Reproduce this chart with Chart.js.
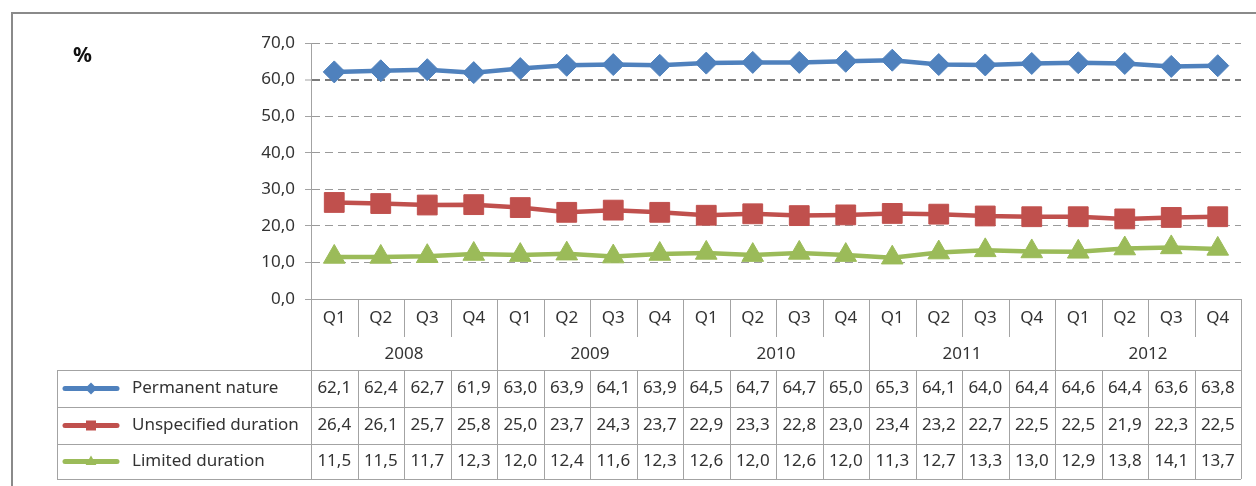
<!DOCTYPE html>
<html>
<head>
<meta charset="utf-8">
<script src="https://cdn.jsdelivr.net/npm/chart.js@4.4.1/dist/chart.umd.min.js"></script>
<style>
  html, body { margin: 0; padding: 0; background: #ffffff; }
  #wrap { position: relative; width: 1256px; height: 486px; }
  canvas { display: block; }
</style>
</head>
<body>
<div id="wrap"><canvas id="c" width="1256" height="486"></canvas></div>
<script>
// ---- Data ----
const years = ['2008', '2009', '2010', '2011', '2012'];
const quarters = ['Q1', 'Q2', 'Q3', 'Q4'];
const seriesNames = ['Permanent nature', 'Unspecified duration', 'Limited duration'];
const permanentNature = [62.1, 62.4, 62.7, 61.9, 63.0, 63.9, 64.1, 63.9, 64.5, 64.7, 64.7, 65.0, 65.3, 64.1, 64.0, 64.4, 64.6, 64.4, 63.6, 63.8];
const unspecifiedDuration = [26.4, 26.1, 25.7, 25.8, 25.0, 23.7, 24.3, 23.7, 22.9, 23.3, 22.8, 23.0, 23.4, 23.2, 22.7, 22.5, 22.5, 21.9, 22.3, 22.5];
const limitedDuration = [11.5, 11.5, 11.7, 12.3, 12.0, 12.4, 11.6, 12.3, 12.6, 12.0, 12.6, 12.0, 11.3, 12.7, 13.3, 13.0, 12.9, 13.8, 14.1, 13.7];
const yTicks = [0, 10, 20, 30, 40, 50, 60, 70];
const unitLabel = '%';

// ---- Build categories ----
const categories = [];
years.forEach(y => quarters.forEach(q => categories.push(y + ' ' + q)));

const COLORS = ['#4F81BD', '#C0504D', '#9BBB59'];
const STYLES = ['rectRot', 'rect', 'triangle'];
const RADII = [11, 14, 12.5];
const seriesData = [permanentNature, unspecifiedDuration, limitedDuration];
const FONT = '"Noto Sans", "Open Sans", sans-serif';
const TEXT = '#333333';
const LINE = '#a3a3a3';
const FS = 17;

const fmt = v => v.toFixed(1).replace('.', ',');

function drawMarker(ctx, style, x, y, r, color) {
  ctx.save();
  ctx.fillStyle = color;
  ctx.beginPath();
  if (style === 'rectRot') {
    ctx.moveTo(x, y - r); ctx.lineTo(x + r, y); ctx.lineTo(x, y + r); ctx.lineTo(x - r, y);
  } else if (style === 'rect') {
    ctx.rect(x - r, y - r, 2 * r, 2 * r);
  } else {
    ctx.moveTo(x, y - r); ctx.lineTo(x + r * 0.9, y + r * 0.6); ctx.lineTo(x - r * 0.9, y + r * 0.6);
  }
  ctx.closePath();
  ctx.fill();
  ctx.restore();
}

const tablePlugin = {
  id: 'dataTable',
  afterDraw(chart) {
    const ctx = chart.ctx;
    const xs = chart.scales.x;
    const ca = chart.chartArea;
    const n = categories.length;
    const step = xs.getPixelForValue(1) - xs.getPixelForValue(0);
    const leftEdge = i => xs.getPixelForValue(i) - step / 2;
    const L = ca.left, R = ca.right, axisY = ca.bottom;
    const qBottom = axisY + 38;
    const yearBottom = axisY + 71;
    const rows = [yearBottom, yearBottom + 37, yearBottom + 74, yearBottom + 109];
    const tableLeft = 57;

    ctx.save();
    // outer chart border
    ctx.strokeStyle = '#8a8a8a';
    ctx.lineWidth = 2;
    ctx.beginPath();
    ctx.moveTo(12, 486); ctx.lineTo(12, 13); ctx.lineTo(1256, 13);
    ctx.stroke();

    // unit label
    ctx.fillStyle = '#111';
    ctx.font = 'bold 21px ' + FONT;
    ctx.textAlign = 'left';
    ctx.textBaseline = 'middle';
    ctx.fillText(unitLabel, 73, 56);

    ctx.strokeStyle = LINE;
    ctx.lineWidth = 1;
    const hline = (x1, x2, y) => { ctx.beginPath(); ctx.moveTo(x1, Math.round(y) + 0.5); ctx.lineTo(x2, Math.round(y) + 0.5); ctx.stroke(); };
    const vline = (x, y1, y2) => { ctx.beginPath(); ctx.moveTo(Math.round(x) + 0.5, y1); ctx.lineTo(Math.round(x) + 0.5, y2); ctx.stroke(); };

    // x axis line
    hline(L - 6, R, axisY);
    // axis extension + right border
    vline(L, axisY, rows[3]);
    vline(R, axisY, rows[3]);
    // quarter separators
    for (let i = 1; i < n; i++) {
      const isYear = i % quarters.length === 0;
      vline(leftEdge(i), axisY, isYear ? rows[3] : qBottom);
      if (!isYear) vline(leftEdge(i), rows[0], rows[3]);
    }
    // table horizontal lines
    rows.forEach(y => hline(tableLeft, R, y));
    vline(tableLeft, rows[0], rows[3]);

    // quarter labels
    ctx.fillStyle = TEXT;
    ctx.font = FS + 'px ' + FONT;
    ctx.textAlign = 'center';
    ctx.textBaseline = 'middle';
    for (let i = 0; i < n; i++) {
      ctx.fillText(quarters[i % quarters.length], xs.getPixelForValue(i), axisY + 19);
    }
    // year labels
    years.forEach((y, k) => {
      const a = leftEdge(k * quarters.length);
      const b = leftEdge(k * quarters.length) + step * quarters.length;
      ctx.fillText(y, (a + b) / 2, (qBottom + yearBottom) / 2 + 1);
    });

    // table rows
    seriesNames.forEach((name, s) => {
      const cy = (rows[s] + rows[s + 1]) / 2;
      // legend key
      ctx.save();
      ctx.strokeStyle = COLORS[s];
      ctx.lineWidth = 5;
      ctx.lineCap = 'round';
      ctx.beginPath();
      ctx.moveTo(65, cy); ctx.lineTo(117, cy);
      ctx.stroke();
      drawMarker(ctx, STYLES[s], 91, cy, STYLES[s] === 'rect' ? 5 : 6, COLORS[s]);
      ctx.restore();
      ctx.fillStyle = TEXT;
      ctx.textAlign = 'left';
      ctx.fillText(name, 132, cy);
      ctx.textAlign = 'center';
      seriesData[s].forEach((v, i) => {
        ctx.fillText(fmt(v), xs.getPixelForValue(i), cy);
      });
    });
    ctx.restore();
  }
};

new Chart(document.getElementById('c'), {
  type: 'line',
  data: {
    labels: categories,
    datasets: seriesNames.map((name, s) => ({
      label: name,
      data: seriesData[s],
      borderColor: COLORS[s],
      backgroundColor: COLORS[s],
      borderWidth: 4.5,
      pointStyle: STYLES[s],
      pointRadius: RADII[s],
      pointHoverRadius: RADII[s],
      pointBorderWidth: 1,
      pointBorderColor: COLORS[s],
      pointBackgroundColor: COLORS[s],
      tension: 0,
      fill: false
    }))
  },
  options: {
    responsive: false,
    animation: false,
    devicePixelRatio: 1,
    layout: { padding: { left: 0, right: 13, top: 43, bottom: 187 } },
    plugins: { legend: { display: false }, tooltip: { enabled: false }, title: { display: false } },
    scales: {
      x: { type: 'category', display: false, offset: true },
      y: {
        min: 0, max: 70,
        afterFit: s => { s.width = 311; },
        afterBuildTicks: s => { s.ticks = yTicks.map(v => ({ value: v })); },
        ticks: {
          padding: 10,
          color: TEXT,
          font: { family: FONT, size: FS },
          callback: v => fmt(v)
        },
        grid: {
          color: c => (c.tick && c.tick.value === 60 ? '#7a7a7a' : '#9a9a9a'),
          lineWidth: c => (c.tick && c.tick.value === 60 ? 2 : 1),
          tickLength: 6,
          tickColor: LINE,
          tickWidth: 1
        },
        border: { display: true, color: LINE, width: 1, dash: [8, 5] }
      }
    }
  },
  plugins: [tablePlugin]
});
</script>
</body>
</html>
